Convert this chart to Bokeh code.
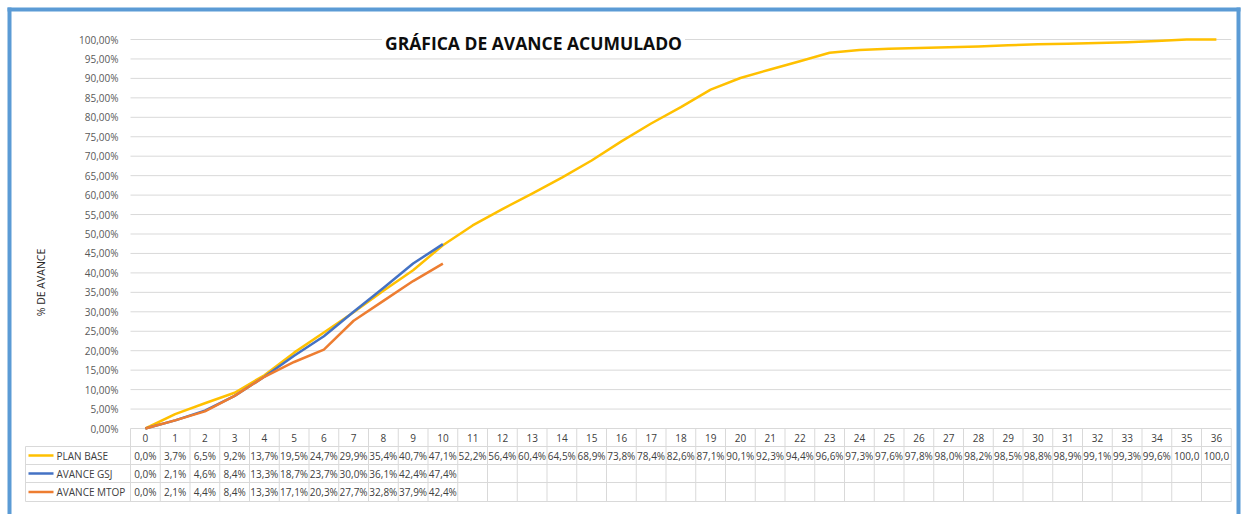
import math
from bokeh.plotting import figure
from bokeh.models import Label
from bokeh.core.properties import value
from bokeh.embed import file_html
from bokeh.resources import INLINE

# ---------------- data ----------------
periods = list(range(37))
plan_base = [0.0, 3.7, 6.5, 9.2, 13.7, 19.5, 24.7, 29.9, 35.4, 40.7, 47.1,
             52.2, 56.4, 60.4, 64.5, 68.9, 73.8, 78.4, 82.6, 87.1, 90.1, 92.3,
             94.4, 96.6, 97.3, 97.6, 97.8, 98.0, 98.2, 98.5, 98.8, 98.9, 99.1,
             99.3, 99.6, 100.0, 100.0]
avance_gsj = [0.0, 2.1, 4.6, 8.4, 13.3, 18.7, 23.7, 30.0, 36.1, 42.4, 47.4]
avance_mtop = [0.0, 2.1, 4.4, 8.4, 13.3, 17.1, 20.3, 27.7, 32.8, 37.9, 42.4]
y_ticks = [0, 5, 10, 15, 20, 25, 30, 35, 40, 45, 50, 55, 60, 65, 70, 75, 80,
           85, 90, 95, 100]
series_names = ["PLAN BASE", "AVANCE GSJ", "AVANCE MTOP"]
series_colors = ["#FFC000", "#4472C4", "#ED7D31"]
title_text = "GRÁFICA DE AVANCE ACUMULADO"
y_title = "% DE AVANCE"

# ---------------- layout (canvas pixels) ----------------
W, H = 1241, 514
PL = 130            # left edge of plot area
CW = 29.75          # width of one category
Y0, Y100 = 428, 39  # canvas y of 0% and 100%
ROWS = [428, 446, 464, 482, 501]  # table horizontal lines
LEG_L = 25
FONT_NAME = "Open Sans"
FONT = value(FONT_NAME)
GRID = "#D9D9D9"

xs = -0.5 - PL / CW
xe = xs + W / CW


def X(px):
    return xs + px / CW


def Y(py):
    return (Y0 - py) / (Y0 - Y100) * 100.0


p = figure(width=W, height=H, x_range=(xs, xe), y_range=(Y(H), Y(0)),
           output_backend="svg", toolbar_location=None,
           x_axis_location=None, y_axis_location=None, min_border=0,
           outline_line_color=None, background_fill_color="white",
           border_fill_color="white")
p.grid.visible = False

n = len(periods)
xl, xr = periods[0] - 0.5, periods[-1] + 0.5

# gridlines
p.segment(x0=[xl] * len(y_ticks), x1=[xr] * len(y_ticks), y0=y_ticks, y1=y_ticks,
          line_color=GRID, line_width=1)


def pct2(v):
    return f"{v:.2f}".replace(".", ",") + "%"


p.text(x=[X(PL - 12)] * len(y_ticks), y=y_ticks, text=[pct2(v) for v in y_ticks],
       text_font=FONT, text_font_size="10px", text_align="right",
       text_baseline="middle", text_color="#595959")

# table grid
p.segment(x0=[X(LEG_L)] * 4, x1=[xr] * 4, y0=[Y(r) for r in ROWS[1:]],
          y1=[Y(r) for r in ROWS[1:]], line_color=GRID, line_width=1)
bounds = [periods[0] - 0.5 + k for k in range(n + 1)]
p.segment(x0=bounds, x1=bounds, y0=[Y(ROWS[0])] * len(bounds),
          y1=[Y(ROWS[-1])] * len(bounds), line_color=GRID, line_width=1)
p.segment(x0=[X(LEG_L)], x1=[X(LEG_L)], y0=[Y(ROWS[1])], y1=[Y(ROWS[-1])],
          line_color=GRID, line_width=1)

# header numbers
hy = Y((ROWS[0] + ROWS[1]) / 2)
p.text(x=periods, y=[hy] * n, text=[str(v) for v in periods], text_font=FONT,
       text_font_size="10px", text_align="center", text_baseline="middle",
       text_color="#404040")

series = [plan_base, avance_gsj, avance_mtop]


def pct1(v):
    return (f"{v:.1f}".replace(".", ",") + "%")[:5]


for i, (name, vals, col) in enumerate(zip(series_names, series, series_colors)):
    xv = periods[:len(vals)]
    p.line(xv, vals, line_color=col, line_width=2.5, line_join="round")
    ry = Y((ROWS[i + 1] + ROWS[i + 2]) / 2)
    p.text(x=xv, y=[ry] * len(vals), text=[pct1(v) for v in vals], text_font=FONT,
           text_font_size="10px", text_align="center", text_baseline="middle",
           text_color="#404040")
    p.segment(x0=[X(LEG_L + 3)], x1=[X(LEG_L + 28)], y0=[ry], y1=[ry],
              line_color=col, line_width=2.5)
    p.text(x=[X(LEG_L + 31)], y=[ry], text=[name], text_font=FONT,
           text_font_size="10px", text_align="left", text_baseline="middle",
           text_color="#404040")

# frame border (left, top, right)
BC = "#5B9BD5"
p.segment(x0=[X(9), X(7), X(1238)], x1=[X(9), X(1240), X(1238)],
          y0=[Y(7), Y(9), Y(7)], y1=[Y(H), Y(9), Y(H)], line_color=BC, line_width=4)

# titles
p.add_layout(Label(x=X(533), y=Y(42), text=title_text, text_font=FONT_NAME,
                   text_font_size="17.5px", text_font_style="bold", text_align="center",
                   text_baseline="middle", text_color="#0D0D0D",
                   background_fill_color="white", padding=3))
p.add_layout(Label(x=X(40), y=Y(282), text=y_title, angle=math.pi / 2,
                   text_font=FONT_NAME, text_font_size="10.5px", text_align="center",
                   text_baseline="middle", text_color="#262626"))

open("out.html", "w").write(file_html(p, INLINE))
